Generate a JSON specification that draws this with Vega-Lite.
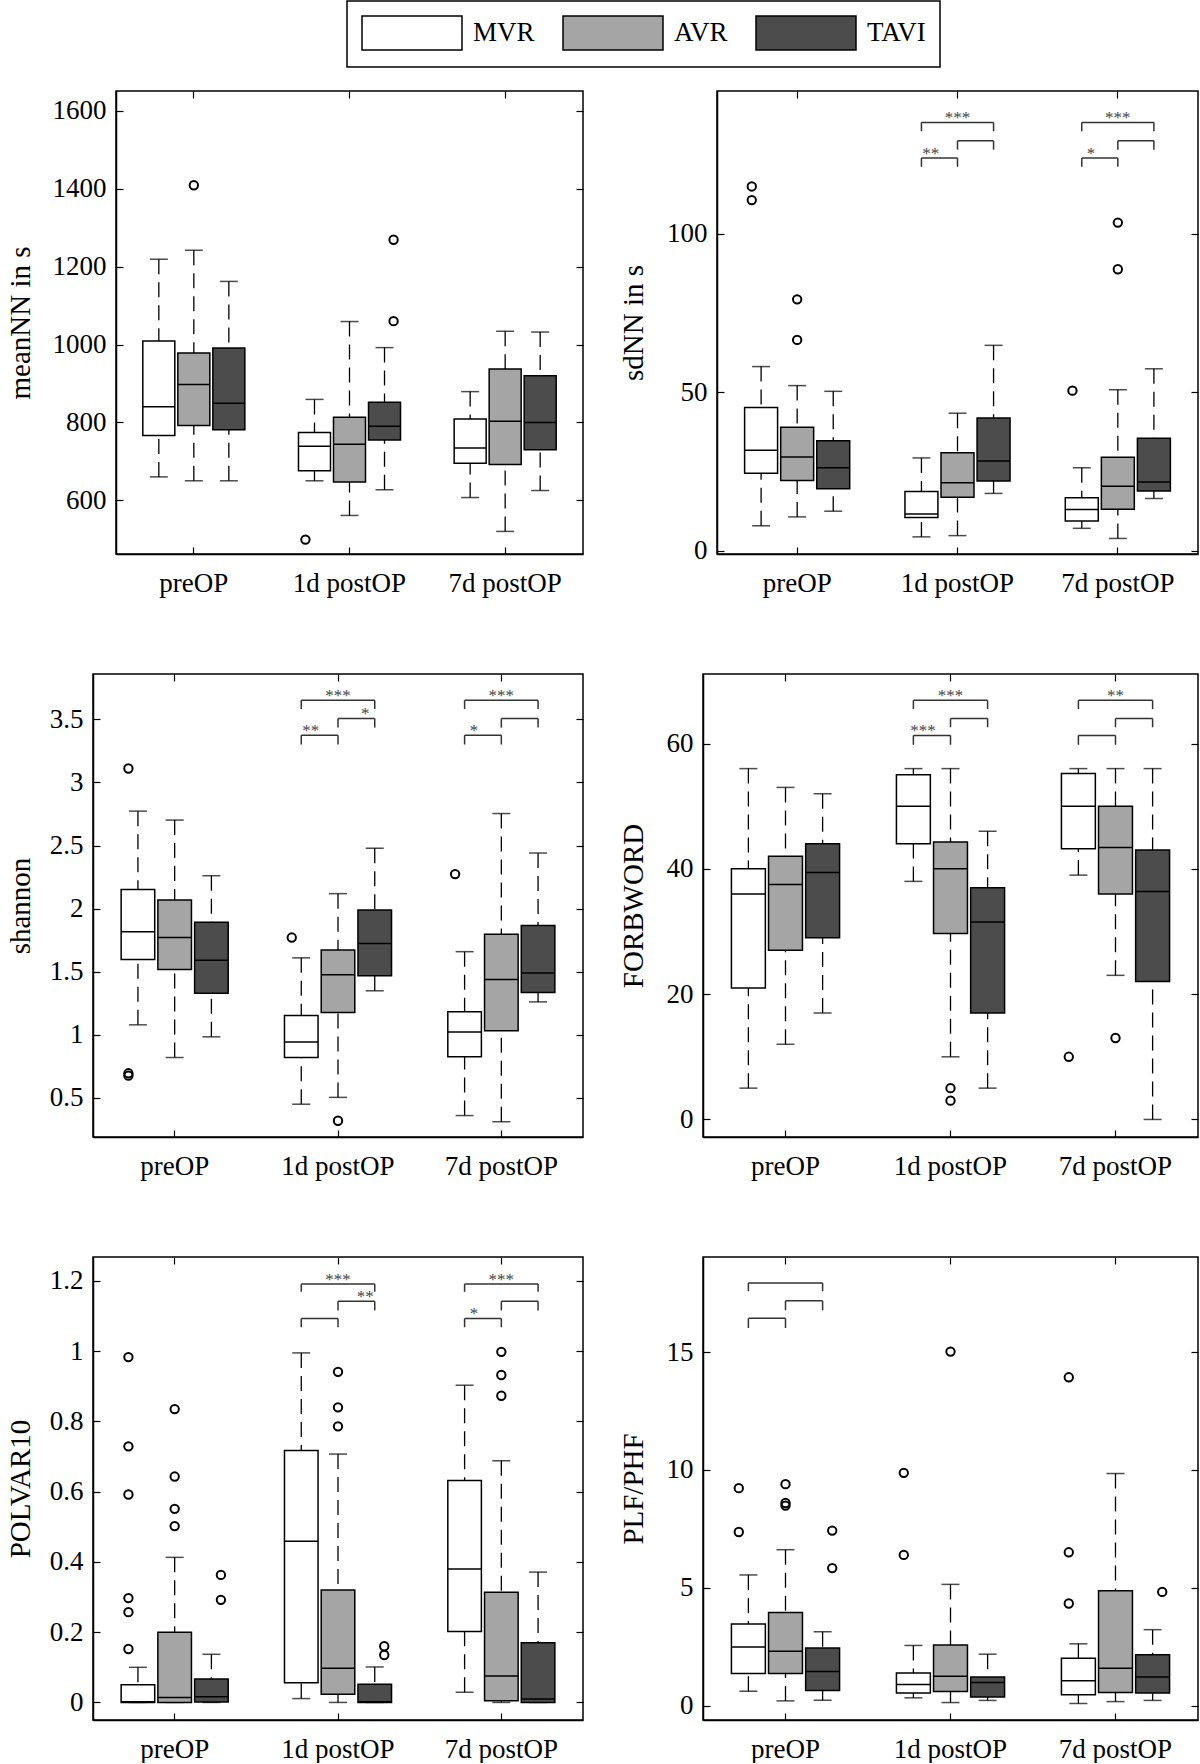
{
"$schema": "https://vega.github.io/schema/vega-lite/v6.json",
"padding": {"left": 4, "top": 0, "right": 0, "bottom": 0},
"datasets": {
"boxes": [
{"p":"meanNN","t":"preOP","g":"MVR","lo":660,"q1":766,"med":840,"q3":1009,"hi":1219},
{"p":"meanNN","t":"preOP","g":"AVR","lo":650,"q1":792,"med":897,"q3":978,"hi":1242},
{"p":"meanNN","t":"preOP","g":"TAVI","lo":650,"q1":781,"med":849,"q3":991,"hi":1162},
{"p":"meanNN","t":"1d postOP","g":"MVR","lo":650,"q1":676,"med":739,"q3":774,"hi":859},
{"p":"meanNN","t":"1d postOP","g":"AVR","lo":561,"q1":647,"med":744,"q3":813,"hi":1059},
{"p":"meanNN","t":"1d postOP","g":"TAVI","lo":627,"q1":755,"med":790,"q3":852,"hi":992},
{"p":"meanNN","t":"7d postOP","g":"MVR","lo":607,"q1":695,"med":734,"q3":809,"hi":879},
{"p":"meanNN","t":"7d postOP","g":"AVR","lo":520,"q1":692,"med":803,"q3":937,"hi":1034},
{"p":"meanNN","t":"7d postOP","g":"TAVI","lo":625,"q1":730,"med":800,"q3":920,"hi":1032},
{"p":"sdNN","t":"preOP","g":"MVR","lo":7.9,"q1":24.5,"med":31.7,"q3":45.2,"hi":58.1},
{"p":"sdNN","t":"preOP","g":"AVR","lo":10.7,"q1":22.2,"med":29.6,"q3":39.0,"hi":52.1},
{"p":"sdNN","t":"preOP","g":"TAVI","lo":12.5,"q1":19.6,"med":26.2,"q3":34.7,"hi":50.3},
{"p":"sdNN","t":"1d postOP","g":"MVR","lo":4.4,"q1":10.5,"med":11.6,"q3":18.7,"hi":29.3},
{"p":"sdNN","t":"1d postOP","g":"AVR","lo":4.8,"q1":16.9,"med":21.5,"q3":30.9,"hi":43.4},
{"p":"sdNN","t":"1d postOP","g":"TAVI","lo":18.1,"q1":22.0,"med":28.3,"q3":41.9,"hi":64.8},
{"p":"sdNN","t":"7d postOP","g":"MVR","lo":7.1,"q1":9.4,"med":13.0,"q3":16.7,"hi":26.2},
{"p":"sdNN","t":"7d postOP","g":"AVR","lo":3.9,"q1":13.1,"med":20.4,"q3":29.5,"hi":50.8},
{"p":"sdNN","t":"7d postOP","g":"TAVI","lo":16.5,"q1":18.9,"med":21.7,"q3":35.5,"hi":57.4},
{"p":"shannon","t":"preOP","g":"MVR","lo":1.079,"q1":1.596,"med":1.817,"q3":2.152,"hi":2.773},
{"p":"shannon","t":"preOP","g":"AVR","lo":0.82,"q1":1.517,"med":1.771,"q3":2.068,"hi":2.702},
{"p":"shannon","t":"preOP","g":"TAVI","lo":0.984,"q1":1.33,"med":1.591,"q3":1.893,"hi":2.261},
{"p":"shannon","t":"1d postOP","g":"MVR","lo":0.45,"q1":0.82,"med":0.943,"q3":1.153,"hi":1.61},
{"p":"shannon","t":"1d postOP","g":"AVR","lo":0.504,"q1":1.177,"med":1.477,"q3":1.673,"hi":2.119},
{"p":"shannon","t":"1d postOP","g":"TAVI","lo":1.349,"q1":1.468,"med":1.724,"q3":1.989,"hi":2.479},
{"p":"shannon","t":"7d postOP","g":"MVR","lo":0.36,"q1":0.826,"med":1.022,"q3":1.182,"hi":1.659},
{"p":"shannon","t":"7d postOP","g":"AVR","lo":0.311,"q1":1.033,"med":1.438,"q3":1.798,"hi":2.754},
{"p":"shannon","t":"7d postOP","g":"TAVI","lo":1.261,"q1":1.335,"med":1.49,"q3":1.866,"hi":2.441},
{"p":"FORBWORD","t":"preOP","g":"MVR","lo":5,"q1":21,"med":36,"q3":40,"hi":56},
{"p":"FORBWORD","t":"preOP","g":"AVR","lo":12,"q1":27,"med":37.5,"q3":42,"hi":53},
{"p":"FORBWORD","t":"preOP","g":"TAVI","lo":17,"q1":29,"med":39.4,"q3":44,"hi":52},
{"p":"FORBWORD","t":"1d postOP","g":"MVR","lo":38,"q1":44,"med":50,"q3":55,"hi":56},
{"p":"FORBWORD","t":"1d postOP","g":"AVR","lo":10,"q1":29.7,"med":40,"q3":44.3,"hi":56},
{"p":"FORBWORD","t":"1d postOP","g":"TAVI","lo":5,"q1":17,"med":31.5,"q3":37,"hi":46},
{"p":"FORBWORD","t":"7d postOP","g":"MVR","lo":39,"q1":43.2,"med":50,"q3":55.2,"hi":56},
{"p":"FORBWORD","t":"7d postOP","g":"AVR","lo":23,"q1":36,"med":43.4,"q3":50,"hi":56},
{"p":"FORBWORD","t":"7d postOP","g":"TAVI","lo":0,"q1":22,"med":36.4,"q3":43,"hi":56},
{"p":"POLVAR10","t":"preOP","g":"MVR","lo":0,"q1":0,"med":0.002,"q3":0.05,"hi":0.1},
{"p":"POLVAR10","t":"preOP","g":"AVR","lo":0,"q1":0,"med":0.014,"q3":0.2,"hi":0.413},
{"p":"POLVAR10","t":"preOP","g":"TAVI","lo":0,"q1":0.001,"med":0.016,"q3":0.067,"hi":0.137},
{"p":"POLVAR10","t":"1d postOP","g":"MVR","lo":0.011,"q1":0.056,"med":0.459,"q3":0.717,"hi":0.995},
{"p":"POLVAR10","t":"1d postOP","g":"AVR","lo":0,"q1":0.023,"med":0.097,"q3":0.32,"hi":0.707},
{"p":"POLVAR10","t":"1d postOP","g":"TAVI","lo":0,"q1":0,"med":0.002,"q3":0.052,"hi":0.101},
{"p":"POLVAR10","t":"7d postOP","g":"MVR","lo":0.029,"q1":0.202,"med":0.38,"q3":0.632,"hi":0.903},
{"p":"POLVAR10","t":"7d postOP","g":"AVR","lo":0,"q1":0.005,"med":0.075,"q3":0.314,"hi":0.688},
{"p":"POLVAR10","t":"7d postOP","g":"TAVI","lo":0,"q1":0,"med":0.01,"q3":0.17,"hi":0.371},
{"p":"PLF","t":"preOP","g":"MVR","lo":0.62,"q1":1.37,"med":2.5,"q3":3.47,"hi":5.55},
{"p":"PLF","t":"preOP","g":"AVR","lo":0.21,"q1":1.37,"med":2.31,"q3":3.96,"hi":6.62},
{"p":"PLF","t":"preOP","g":"TAVI","lo":0.24,"q1":0.65,"med":1.46,"q3":2.45,"hi":3.14},
{"p":"PLF","t":"1d postOP","g":"MVR","lo":0.34,"q1":0.55,"med":0.91,"q3":1.39,"hi":2.56},
{"p":"PLF","t":"1d postOP","g":"AVR","lo":0.14,"q1":0.61,"med":1.25,"q3":2.58,"hi":5.15},
{"p":"PLF","t":"1d postOP","g":"TAVI","lo":0.23,"q1":0.38,"med":0.99,"q3":1.22,"hi":2.19},
{"p":"PLF","t":"7d postOP","g":"MVR","lo":0.1,"q1":0.47,"med":1.06,"q3":2.02,"hi":2.63},
{"p":"PLF","t":"7d postOP","g":"AVR","lo":0.18,"q1":0.57,"med":1.59,"q3":4.88,"hi":9.85},
{"p":"PLF","t":"7d postOP","g":"TAVI","lo":0.23,"q1":0.54,"med":1.22,"q3":2.17,"hi":3.23}
],
"outliers": [
{"p":"meanNN","t":"preOP","g":"AVR","v":1409},
{"p":"meanNN","t":"1d postOP","g":"MVR","v":499},
{"p":"meanNN","t":"1d postOP","g":"TAVI","v":1269},
{"p":"meanNN","t":"1d postOP","g":"TAVI","v":1060},
{"p":"sdNN","t":"preOP","g":"MVR","v":114.9},
{"p":"sdNN","t":"preOP","g":"MVR","v":110.6},
{"p":"sdNN","t":"preOP","g":"AVR","v":79.3},
{"p":"sdNN","t":"preOP","g":"AVR","v":66.5},
{"p":"sdNN","t":"7d postOP","g":"MVR","v":50.5},
{"p":"sdNN","t":"7d postOP","g":"AVR","v":103.5},
{"p":"sdNN","t":"7d postOP","g":"AVR","v":88.8},
{"p":"shannon","t":"preOP","g":"MVR","v":3.111},
{"p":"shannon","t":"preOP","g":"MVR","v":0.695},
{"p":"shannon","t":"preOP","g":"MVR","v":0.676},
{"p":"shannon","t":"1d postOP","g":"MVR","v":1.771},
{"p":"shannon","t":"1d postOP","g":"AVR","v":0.319},
{"p":"shannon","t":"7d postOP","g":"MVR","v":2.274},
{"p":"FORBWORD","t":"1d postOP","g":"AVR","v":5},
{"p":"FORBWORD","t":"1d postOP","g":"AVR","v":3},
{"p":"FORBWORD","t":"7d postOP","g":"MVR","v":10},
{"p":"FORBWORD","t":"7d postOP","g":"AVR","v":13},
{"p":"POLVAR10","t":"preOP","g":"MVR","v":0.983},
{"p":"POLVAR10","t":"preOP","g":"MVR","v":0.729},
{"p":"POLVAR10","t":"preOP","g":"MVR","v":0.592},
{"p":"POLVAR10","t":"preOP","g":"MVR","v":0.297},
{"p":"POLVAR10","t":"preOP","g":"MVR","v":0.257},
{"p":"POLVAR10","t":"preOP","g":"MVR","v":0.152},
{"p":"POLVAR10","t":"preOP","g":"AVR","v":0.835},
{"p":"POLVAR10","t":"preOP","g":"AVR","v":0.643},
{"p":"POLVAR10","t":"preOP","g":"AVR","v":0.551},
{"p":"POLVAR10","t":"preOP","g":"AVR","v":0.502},
{"p":"POLVAR10","t":"preOP","g":"TAVI","v":0.363},
{"p":"POLVAR10","t":"preOP","g":"TAVI","v":0.292},
{"p":"POLVAR10","t":"1d postOP","g":"AVR","v":0.941},
{"p":"POLVAR10","t":"1d postOP","g":"AVR","v":0.84},
{"p":"POLVAR10","t":"1d postOP","g":"AVR","v":0.786},
{"p":"POLVAR10","t":"1d postOP","g":"TAVI","v":0.16},
{"p":"POLVAR10","t":"1d postOP","g":"TAVI","v":0.135},
{"p":"POLVAR10","t":"7d postOP","g":"AVR","v":0.998},
{"p":"POLVAR10","t":"7d postOP","g":"AVR","v":0.932},
{"p":"POLVAR10","t":"7d postOP","g":"AVR","v":0.873},
{"p":"PLF","t":"preOP","g":"MVR","v":9.23},
{"p":"PLF","t":"preOP","g":"MVR","v":7.37},
{"p":"PLF","t":"preOP","g":"AVR","v":9.4},
{"p":"PLF","t":"preOP","g":"AVR","v":8.6},
{"p":"PLF","t":"preOP","g":"AVR","v":8.49},
{"p":"PLF","t":"preOP","g":"TAVI","v":7.43},
{"p":"PLF","t":"preOP","g":"TAVI","v":5.84},
{"p":"PLF","t":"1d postOP","g":"MVR","v":9.88},
{"p":"PLF","t":"1d postOP","g":"MVR","v":6.4},
{"p":"PLF","t":"1d postOP","g":"AVR","v":15.02},
{"p":"PLF","t":"7d postOP","g":"MVR","v":13.93},
{"p":"PLF","t":"7d postOP","g":"MVR","v":6.51},
{"p":"PLF","t":"7d postOP","g":"MVR","v":4.34},
{"p":"PLF","t":"7d postOP","g":"TAVI","v":4.83}
],
"brackets": [
{"p":"sdNN","t":"1d postOP","a":"MVR","b":"AVR","mid":"MVR-AVR","bot":121.1,"top":123.9,"s":"**"},
{"p":"sdNN","t":"1d postOP","a":"AVR","b":"TAVI","mid":"AVR-TAVI","bot":126.5,"top":129.3,"s":""},
{"p":"sdNN","t":"1d postOP","a":"MVR","b":"TAVI","mid":"AVR","bot":132.3,"top":135.1,"s":"***"},
{"p":"sdNN","t":"7d postOP","a":"MVR","b":"AVR","mid":"MVR-AVR","bot":121.1,"top":123.9,"s":"*"},
{"p":"sdNN","t":"7d postOP","a":"AVR","b":"TAVI","mid":"AVR-TAVI","bot":126.5,"top":129.3,"s":""},
{"p":"sdNN","t":"7d postOP","a":"MVR","b":"TAVI","mid":"AVR","bot":132.3,"top":135.1,"s":"***"},
{"p":"shannon","t":"1d postOP","a":"MVR","b":"AVR","mid":"MVR-AVR","bot":3.301,"top":3.375,"s":"**"},
{"p":"shannon","t":"1d postOP","a":"AVR","b":"TAVI","mid":"AVR-TAVI","bot":3.435,"top":3.508,"s":"*"},
{"p":"shannon","t":"1d postOP","a":"MVR","b":"TAVI","mid":"AVR","bot":3.582,"top":3.652,"s":"***"},
{"p":"shannon","t":"7d postOP","a":"MVR","b":"AVR","mid":"MVR-AVR","bot":3.301,"top":3.375,"s":"*"},
{"p":"shannon","t":"7d postOP","a":"AVR","b":"TAVI","mid":"AVR-TAVI","bot":3.435,"top":3.508,"s":""},
{"p":"shannon","t":"7d postOP","a":"MVR","b":"TAVI","mid":"AVR","bot":3.582,"top":3.652,"s":"***"},
{"p":"FORBWORD","t":"1d postOP","a":"MVR","b":"AVR","mid":"MVR-AVR","bot":59.8,"top":61.3,"s":"***"},
{"p":"FORBWORD","t":"1d postOP","a":"AVR","b":"TAVI","mid":"AVR-TAVI","bot":62.6,"top":64.0,"s":""},
{"p":"FORBWORD","t":"1d postOP","a":"MVR","b":"TAVI","mid":"AVR","bot":65.5,"top":66.9,"s":"***"},
{"p":"FORBWORD","t":"7d postOP","a":"MVR","b":"AVR","mid":"MVR-AVR","bot":59.8,"top":61.3,"s":""},
{"p":"FORBWORD","t":"7d postOP","a":"AVR","b":"TAVI","mid":"AVR-TAVI","bot":62.6,"top":64.0,"s":""},
{"p":"FORBWORD","t":"7d postOP","a":"MVR","b":"TAVI","mid":"AVR","bot":65.5,"top":66.9,"s":"**"},
{"p":"POLVAR10","t":"1d postOP","a":"MVR","b":"AVR","mid":"MVR-AVR","bot":1.068,"top":1.093,"s":""},
{"p":"POLVAR10","t":"1d postOP","a":"AVR","b":"TAVI","mid":"AVR-TAVI","bot":1.116,"top":1.142,"s":"**"},
{"p":"POLVAR10","t":"1d postOP","a":"MVR","b":"TAVI","mid":"AVR","bot":1.169,"top":1.191,"s":"***"},
{"p":"POLVAR10","t":"7d postOP","a":"MVR","b":"AVR","mid":"MVR-AVR","bot":1.068,"top":1.093,"s":"*"},
{"p":"POLVAR10","t":"7d postOP","a":"AVR","b":"TAVI","mid":"AVR-TAVI","bot":1.116,"top":1.142,"s":""},
{"p":"POLVAR10","t":"7d postOP","a":"MVR","b":"TAVI","mid":"AVR","bot":1.169,"top":1.191,"s":"***"},
{"p":"PLF","t":"preOP","a":"MVR","b":"AVR","mid":"MVR-AVR","bot":16.02,"top":16.43,"s":""},
{"p":"PLF","t":"preOP","a":"AVR","b":"TAVI","mid":"AVR-TAVI","bot":16.77,"top":17.17,"s":""},
{"p":"PLF","t":"preOP","a":"MVR","b":"TAVI","mid":"AVR","bot":17.58,"top":17.93,"s":""}
]
},
"concat": [
{"hconcat": [
{"width": 1, "height": 10, "data": {"values": []}, "mark": {"type": "rule", "opacity": 0}, "encoding": {}, "view": {"stroke": null}},
{"hconcat": [
{"width": 467, "height": 463,
 "layer": [
  {"data": {"name": "boxes"}, "transform": [{"filter": "datum.p == 'meanNN'"}],
   "encoding": {
    "x": {"field": "t", "type": "nominal", "scale": {"domain": ["preOP","1d postOP","7d postOP"], "paddingInner": 0, "paddingOuter": 0}, "axis": {"orient": "bottom", "title": null}},
    "xOffset": {"field": "g", "type": "nominal", "scale": {"domain": ["MVR","AVR","TAVI"], "paddingInner": 0.086, "paddingOuter": 0.766}}},
   "layer": [
    {"mark": {"type": "rule", "color": "black", "strokeWidth": 1.3, "strokeDash": [15, 8]},
     "encoding": {"y": {"field": "hi", "type": "quantitative", "scale": {"domain": [462, 1651], "nice": false, "zero": false}, "axis": {"orient": "left", "title": "meanNN in s", "values": [600,800,1000,1200,1400,1600], "format": "d", "minExtent": 71, "maxExtent": 71, "titlePadding": 10}}, "y2": {"field": "q3"}}},
    {"mark": {"type": "rule", "color": "black", "strokeWidth": 1.3, "strokeDash": [15, 8]},
     "encoding": {"y": {"field": "lo", "type": "quantitative"}, "y2": {"field": "q1"}}},
    {"mark": {"type": "tick", "color": "black", "size": 18, "thickness": 1.5}, "encoding": {"y": {"field": "hi", "type": "quantitative"}}},
    {"mark": {"type": "tick", "color": "black", "size": 18, "thickness": 1.5}, "encoding": {"y": {"field": "lo", "type": "quantitative"}}},
    {"mark": {"type": "bar", "stroke": "black", "strokeWidth": 1.5, "opacity": 1},
     "encoding": {"y": {"field": "q1", "type": "quantitative"}, "y2": {"field": "q3"}, "fill": {"field": "g", "type": "nominal", "scale": {"domain": ["MVR","AVR","TAVI"], "range": ["#ffffff","#a5a5a5","#4c4c4c"]}, "legend": {"title": null}}}},
    {"mark": {"type": "bar", "fillOpacity": 0, "stroke": "black", "strokeWidth": 1.5},
     "encoding": {"y": {"field": "med", "type": "quantitative"}, "y2": {"field": "med"}}}
   ]},
  {"data": {"name": "outliers"}, "transform": [{"filter": "datum.p == 'meanNN'"}],
   "mark": {"type": "point", "shape": "circle", "filled": false, "color": "black", "strokeWidth": 2, "size": 70, "opacity": 1},
   "encoding": {
    "x": {"field": "t", "type": "nominal", "axis": {"orient": "top", "labels": false, "domain": false, "title": null, "minExtent": 0, "maxExtent": 0}},
    "xOffset": {"field": "g", "type": "nominal", "scale": {"domain": ["MVR","AVR","TAVI"], "paddingInner": 0.086, "paddingOuter": 0.766}},
    "y": {"field": "v", "type": "quantitative", "axis": {"orient": "right", "labels": false, "domain": false, "title": null, "values": [600,800,1000,1200,1400,1600], "minExtent": 0, "maxExtent": 0}}}}
 ],
 "resolve": {"scale": {"xOffset": "independent"}, "axis": {"x": "independent", "y": "independent"}}
},
{"width": 481, "height": 463,
 "layer": [
  {"data": {"name": "boxes"}, "transform": [{"filter": "datum.p == 'sdNN'"}],
   "encoding": {
    "x": {"field": "t", "type": "nominal", "scale": {"domain": ["preOP","1d postOP","7d postOP"], "paddingInner": 0, "paddingOuter": 0}, "axis": {"orient": "bottom", "title": null}},
    "xOffset": {"field": "g", "type": "nominal", "scale": {"domain": ["MVR","AVR","TAVI"], "paddingInner": 0.086, "paddingOuter": 0.766}}},
   "layer": [
    {"mark": {"type": "rule", "color": "black", "strokeWidth": 1.3, "strokeDash": [15, 8]},
     "encoding": {"y": {"field": "hi", "type": "quantitative", "scale": {"domain": [-1, 145], "nice": false, "zero": false}, "axis": {"orient": "left", "title": "sdNN in s", "values": [0,50,100], "minExtent": 59, "maxExtent": 59, "titlePadding": 10}}, "y2": {"field": "q3"}}},
    {"mark": {"type": "rule", "color": "black", "strokeWidth": 1.3, "strokeDash": [15, 8]},
     "encoding": {"y": {"field": "lo", "type": "quantitative"}, "y2": {"field": "q1"}}},
    {"mark": {"type": "tick", "color": "black", "size": 18, "thickness": 1.5}, "encoding": {"y": {"field": "hi", "type": "quantitative"}}},
    {"mark": {"type": "tick", "color": "black", "size": 18, "thickness": 1.5}, "encoding": {"y": {"field": "lo", "type": "quantitative"}}},
    {"mark": {"type": "bar", "stroke": "black", "strokeWidth": 1.5, "opacity": 1},
     "encoding": {"y": {"field": "q1", "type": "quantitative"}, "y2": {"field": "q3"}, "fill": {"field": "g", "type": "nominal", "scale": {"domain": ["MVR","AVR","TAVI"], "range": ["#ffffff","#a5a5a5","#4c4c4c"]}, "legend": {"title": null}}}},
    {"mark": {"type": "bar", "fillOpacity": 0, "stroke": "black", "strokeWidth": 1.5},
     "encoding": {"y": {"field": "med", "type": "quantitative"}, "y2": {"field": "med"}}}
   ]},
  {"data": {"name": "outliers"}, "transform": [{"filter": "datum.p == 'sdNN'"}],
   "mark": {"type": "point", "shape": "circle", "filled": false, "color": "black", "strokeWidth": 2, "size": 70, "opacity": 1},
   "encoding": {
    "x": {"field": "t", "type": "nominal", "axis": {"orient": "top", "labels": false, "domain": false, "title": null, "minExtent": 0, "maxExtent": 0}},
    "xOffset": {"field": "g", "type": "nominal", "scale": {"domain": ["MVR","AVR","TAVI"], "paddingInner": 0.086, "paddingOuter": 0.766}},
    "y": {"field": "v", "type": "quantitative", "axis": {"orient": "right", "labels": false, "domain": false, "title": null, "values": [0,50,100], "minExtent": 0, "maxExtent": 0}}}},
  {"data": {"name": "brackets"}, "transform": [{"filter": "datum.p == 'sdNN'"}, {"fold": ["a", "b"], "as": ["k", "gv"]}],
   "encoding": {
    "x": {"field": "t", "type": "nominal", "axis": null},
    "xOffset": {"field": "gv", "type": "nominal", "scale": {"domain": ["MVR","AVR","TAVI"], "paddingInner": 0.086, "paddingOuter": 0.766}}},
   "layer": [
    {"mark": {"type": "line", "color": "#333333", "strokeWidth": 1.5}, "encoding": {"y": {"field": "top", "type": "quantitative", "axis": null}, "detail": [{"field": "t"}, {"field": "mid"}]}},
    {"mark": {"type": "rule", "color": "#333333", "strokeWidth": 1.5}, "encoding": {"y": {"field": "bot", "type": "quantitative", "axis": null}, "y2": {"field": "top"}}}
   ]},
  {"data": {"name": "brackets"}, "transform": [{"filter": "datum.p == 'sdNN'"}],
   "mark": {"type": "text", "font": "Liberation Serif", "fontSize": 17, "color": "#444444", "baseline": "alphabetic", "dy": 1},
   "encoding": {
    "x": {"field": "t", "type": "nominal", "axis": null},
    "xOffset": {"field": "mid", "type": "nominal", "scale": {"type": "point", "domain": ["MVR","MVR-AVR","AVR","AVR-TAVI","TAVI"], "padding": 2.446}},
    "y": {"field": "top", "type": "quantitative", "axis": null},
    "text": {"field": "s"}}}
 ],
 "resolve": {"scale": {"xOffset": "independent"}, "axis": {"x": "independent", "y": "independent"}}
}
], "spacing": 33}
], "spacing": 0},
{"hconcat": [
{"width": 1, "height": 10, "data": {"values": []}, "mark": {"type": "rule", "opacity": 0}, "encoding": {}, "view": {"stroke": null}},
{"hconcat": [
{"width": 490, "height": 463,
 "layer": [
  {"data": {"name": "boxes"}, "transform": [{"filter": "datum.p == 'shannon'"}],
   "encoding": {
    "x": {"field": "t", "type": "nominal", "scale": {"domain": ["preOP","1d postOP","7d postOP"], "paddingInner": 0, "paddingOuter": 0}, "axis": {"orient": "bottom", "title": null}},
    "xOffset": {"field": "g", "type": "nominal", "scale": {"domain": ["MVR","AVR","TAVI"], "paddingInner": 0.086, "paddingOuter": 0.766}}},
   "layer": [
    {"mark": {"type": "rule", "color": "black", "strokeWidth": 1.3, "strokeDash": [15, 8]},
     "encoding": {"y": {"field": "hi", "type": "quantitative", "scale": {"domain": [0.19, 3.86], "nice": false, "zero": false}, "axis": {"orient": "left", "title": "shannon", "values": [0.5,1,1.5,2,2.5,3,3.5], "format": "~g", "minExtent": 48, "maxExtent": 48, "titlePadding": 10}}, "y2": {"field": "q3"}}},
    {"mark": {"type": "rule", "color": "black", "strokeWidth": 1.3, "strokeDash": [15, 8]},
     "encoding": {"y": {"field": "lo", "type": "quantitative"}, "y2": {"field": "q1"}}},
    {"mark": {"type": "tick", "color": "black", "size": 18, "thickness": 1.5}, "encoding": {"y": {"field": "hi", "type": "quantitative"}}},
    {"mark": {"type": "tick", "color": "black", "size": 18, "thickness": 1.5}, "encoding": {"y": {"field": "lo", "type": "quantitative"}}},
    {"mark": {"type": "bar", "stroke": "black", "strokeWidth": 1.5, "opacity": 1},
     "encoding": {"y": {"field": "q1", "type": "quantitative"}, "y2": {"field": "q3"}, "fill": {"field": "g", "type": "nominal", "scale": {"domain": ["MVR","AVR","TAVI"], "range": ["#ffffff","#a5a5a5","#4c4c4c"]}, "legend": {"title": null}}}},
    {"mark": {"type": "bar", "fillOpacity": 0, "stroke": "black", "strokeWidth": 1.5},
     "encoding": {"y": {"field": "med", "type": "quantitative"}, "y2": {"field": "med"}}}
   ]},
  {"data": {"name": "outliers"}, "transform": [{"filter": "datum.p == 'shannon'"}],
   "mark": {"type": "point", "shape": "circle", "filled": false, "color": "black", "strokeWidth": 2, "size": 70, "opacity": 1},
   "encoding": {
    "x": {"field": "t", "type": "nominal", "axis": {"orient": "top", "labels": false, "domain": false, "title": null, "minExtent": 0, "maxExtent": 0}},
    "xOffset": {"field": "g", "type": "nominal", "scale": {"domain": ["MVR","AVR","TAVI"], "paddingInner": 0.086, "paddingOuter": 0.766}},
    "y": {"field": "v", "type": "quantitative", "axis": {"orient": "right", "labels": false, "domain": false, "title": null, "values": [0.5,1,1.5,2,2.5,3,3.5], "minExtent": 0, "maxExtent": 0}}}},
  {"data": {"name": "brackets"}, "transform": [{"filter": "datum.p == 'shannon'"}, {"fold": ["a", "b"], "as": ["k", "gv"]}],
   "encoding": {
    "x": {"field": "t", "type": "nominal", "axis": null},
    "xOffset": {"field": "gv", "type": "nominal", "scale": {"domain": ["MVR","AVR","TAVI"], "paddingInner": 0.086, "paddingOuter": 0.766}}},
   "layer": [
    {"mark": {"type": "line", "color": "#333333", "strokeWidth": 1.5}, "encoding": {"y": {"field": "top", "type": "quantitative", "axis": null}, "detail": [{"field": "t"}, {"field": "mid"}]}},
    {"mark": {"type": "rule", "color": "#333333", "strokeWidth": 1.5}, "encoding": {"y": {"field": "bot", "type": "quantitative", "axis": null}, "y2": {"field": "top"}}}
   ]},
  {"data": {"name": "brackets"}, "transform": [{"filter": "datum.p == 'shannon'"}],
   "mark": {"type": "text", "font": "Liberation Serif", "fontSize": 17, "color": "#444444", "baseline": "alphabetic", "dy": 1},
   "encoding": {
    "x": {"field": "t", "type": "nominal", "axis": null},
    "xOffset": {"field": "mid", "type": "nominal", "scale": {"type": "point", "domain": ["MVR","MVR-AVR","AVR","AVR-TAVI","TAVI"], "padding": 2.446}},
    "y": {"field": "top", "type": "quantitative", "axis": null},
    "text": {"field": "s"}}}
 ],
 "resolve": {"scale": {"xOffset": "independent"}, "axis": {"x": "independent", "y": "independent"}}
},
{"width": 495, "height": 463,
 "layer": [
  {"data": {"name": "boxes"}, "transform": [{"filter": "datum.p == 'FORBWORD'"}],
   "encoding": {
    "x": {"field": "t", "type": "nominal", "scale": {"domain": ["preOP","1d postOP","7d postOP"], "paddingInner": 0, "paddingOuter": 0}, "axis": {"orient": "bottom", "title": null}},
    "xOffset": {"field": "g", "type": "nominal", "scale": {"domain": ["MVR","AVR","TAVI"], "paddingInner": 0.086, "paddingOuter": 0.766}}},
   "layer": [
    {"mark": {"type": "rule", "color": "black", "strokeWidth": 1.3, "strokeDash": [15, 8]},
     "encoding": {"y": {"field": "hi", "type": "quantitative", "scale": {"domain": [-2.8, 71.1], "nice": false, "zero": false}, "axis": {"orient": "left", "title": "FORBWORD", "values": [0,20,40,60], "minExtent": 45, "maxExtent": 45, "titlePadding": 10}}, "y2": {"field": "q3"}}},
    {"mark": {"type": "rule", "color": "black", "strokeWidth": 1.3, "strokeDash": [15, 8]},
     "encoding": {"y": {"field": "lo", "type": "quantitative"}, "y2": {"field": "q1"}}},
    {"mark": {"type": "tick", "color": "black", "size": 18, "thickness": 1.5}, "encoding": {"y": {"field": "hi", "type": "quantitative"}}},
    {"mark": {"type": "tick", "color": "black", "size": 18, "thickness": 1.5}, "encoding": {"y": {"field": "lo", "type": "quantitative"}}},
    {"mark": {"type": "bar", "stroke": "black", "strokeWidth": 1.5, "opacity": 1},
     "encoding": {"y": {"field": "q1", "type": "quantitative"}, "y2": {"field": "q3"}, "fill": {"field": "g", "type": "nominal", "scale": {"domain": ["MVR","AVR","TAVI"], "range": ["#ffffff","#a5a5a5","#4c4c4c"]}, "legend": {"title": null}}}},
    {"mark": {"type": "bar", "fillOpacity": 0, "stroke": "black", "strokeWidth": 1.5},
     "encoding": {"y": {"field": "med", "type": "quantitative"}, "y2": {"field": "med"}}}
   ]},
  {"data": {"name": "outliers"}, "transform": [{"filter": "datum.p == 'FORBWORD'"}],
   "mark": {"type": "point", "shape": "circle", "filled": false, "color": "black", "strokeWidth": 2, "size": 70, "opacity": 1},
   "encoding": {
    "x": {"field": "t", "type": "nominal", "axis": {"orient": "top", "labels": false, "domain": false, "title": null, "minExtent": 0, "maxExtent": 0}},
    "xOffset": {"field": "g", "type": "nominal", "scale": {"domain": ["MVR","AVR","TAVI"], "paddingInner": 0.086, "paddingOuter": 0.766}},
    "y": {"field": "v", "type": "quantitative", "axis": {"orient": "right", "labels": false, "domain": false, "title": null, "values": [0,20,40,60], "minExtent": 0, "maxExtent": 0}}}},
  {"data": {"name": "brackets"}, "transform": [{"filter": "datum.p == 'FORBWORD'"}, {"fold": ["a", "b"], "as": ["k", "gv"]}],
   "encoding": {
    "x": {"field": "t", "type": "nominal", "axis": null},
    "xOffset": {"field": "gv", "type": "nominal", "scale": {"domain": ["MVR","AVR","TAVI"], "paddingInner": 0.086, "paddingOuter": 0.766}}},
   "layer": [
    {"mark": {"type": "line", "color": "#333333", "strokeWidth": 1.5}, "encoding": {"y": {"field": "top", "type": "quantitative", "axis": null}, "detail": [{"field": "t"}, {"field": "mid"}]}},
    {"mark": {"type": "rule", "color": "#333333", "strokeWidth": 1.5}, "encoding": {"y": {"field": "bot", "type": "quantitative", "axis": null}, "y2": {"field": "top"}}}
   ]},
  {"data": {"name": "brackets"}, "transform": [{"filter": "datum.p == 'FORBWORD'"}],
   "mark": {"type": "text", "font": "Liberation Serif", "fontSize": 17, "color": "#444444", "baseline": "alphabetic", "dy": 1},
   "encoding": {
    "x": {"field": "t", "type": "nominal", "axis": null},
    "xOffset": {"field": "mid", "type": "nominal", "scale": {"type": "point", "domain": ["MVR","MVR-AVR","AVR","AVR-TAVI","TAVI"], "padding": 2.446}},
    "y": {"field": "top", "type": "quantitative", "axis": null},
    "text": {"field": "s"}}}
 ],
 "resolve": {"scale": {"xOffset": "independent"}, "axis": {"x": "independent", "y": "independent"}}
}
], "spacing": 33}
], "spacing": 0},
{"hconcat": [
{"width": 1, "height": 10, "data": {"values": []}, "mark": {"type": "rule", "opacity": 0}, "encoding": {}, "view": {"stroke": null}},
{"hconcat": [
{"width": 490, "height": 463,
 "layer": [
  {"data": {"name": "boxes"}, "transform": [{"filter": "datum.p == 'POLVAR10'"}],
   "encoding": {
    "x": {"field": "t", "type": "nominal", "scale": {"domain": ["preOP","1d postOP","7d postOP"], "paddingInner": 0, "paddingOuter": 0}, "axis": {"orient": "bottom", "title": null}},
    "xOffset": {"field": "g", "type": "nominal", "scale": {"domain": ["MVR","AVR","TAVI"], "paddingInner": 0.086, "paddingOuter": 0.766}}},
   "layer": [
    {"mark": {"type": "rule", "color": "black", "strokeWidth": 1.3, "strokeDash": [15, 8]},
     "encoding": {"y": {"field": "hi", "type": "quantitative", "scale": {"domain": [-0.05, 1.268], "nice": false, "zero": false}, "axis": {"orient": "left", "title": "POLVAR10", "values": [0,0.2,0.4,0.6,0.8,1,1.2], "format": "~g", "minExtent": 48, "maxExtent": 48, "titlePadding": 10}}, "y2": {"field": "q3"}}},
    {"mark": {"type": "rule", "color": "black", "strokeWidth": 1.3, "strokeDash": [15, 8]},
     "encoding": {"y": {"field": "lo", "type": "quantitative"}, "y2": {"field": "q1"}}},
    {"mark": {"type": "tick", "color": "black", "size": 18, "thickness": 1.5}, "encoding": {"y": {"field": "hi", "type": "quantitative"}}},
    {"mark": {"type": "tick", "color": "black", "size": 18, "thickness": 1.5}, "encoding": {"y": {"field": "lo", "type": "quantitative"}}},
    {"mark": {"type": "bar", "stroke": "black", "strokeWidth": 1.5, "opacity": 1},
     "encoding": {"y": {"field": "q1", "type": "quantitative"}, "y2": {"field": "q3"}, "fill": {"field": "g", "type": "nominal", "scale": {"domain": ["MVR","AVR","TAVI"], "range": ["#ffffff","#a5a5a5","#4c4c4c"]}, "legend": {"title": null}}}},
    {"mark": {"type": "bar", "fillOpacity": 0, "stroke": "black", "strokeWidth": 1.5},
     "encoding": {"y": {"field": "med", "type": "quantitative"}, "y2": {"field": "med"}}}
   ]},
  {"data": {"name": "outliers"}, "transform": [{"filter": "datum.p == 'POLVAR10'"}],
   "mark": {"type": "point", "shape": "circle", "filled": false, "color": "black", "strokeWidth": 2, "size": 70, "opacity": 1},
   "encoding": {
    "x": {"field": "t", "type": "nominal", "axis": {"orient": "top", "labels": false, "domain": false, "title": null, "minExtent": 0, "maxExtent": 0}},
    "xOffset": {"field": "g", "type": "nominal", "scale": {"domain": ["MVR","AVR","TAVI"], "paddingInner": 0.086, "paddingOuter": 0.766}},
    "y": {"field": "v", "type": "quantitative", "axis": {"orient": "right", "labels": false, "domain": false, "title": null, "values": [0,0.2,0.4,0.6,0.8,1,1.2], "minExtent": 0, "maxExtent": 0}}}},
  {"data": {"name": "brackets"}, "transform": [{"filter": "datum.p == 'POLVAR10'"}, {"fold": ["a", "b"], "as": ["k", "gv"]}],
   "encoding": {
    "x": {"field": "t", "type": "nominal", "axis": null},
    "xOffset": {"field": "gv", "type": "nominal", "scale": {"domain": ["MVR","AVR","TAVI"], "paddingInner": 0.086, "paddingOuter": 0.766}}},
   "layer": [
    {"mark": {"type": "line", "color": "#333333", "strokeWidth": 1.5}, "encoding": {"y": {"field": "top", "type": "quantitative", "axis": null}, "detail": [{"field": "t"}, {"field": "mid"}]}},
    {"mark": {"type": "rule", "color": "#333333", "strokeWidth": 1.5}, "encoding": {"y": {"field": "bot", "type": "quantitative", "axis": null}, "y2": {"field": "top"}}}
   ]},
  {"data": {"name": "brackets"}, "transform": [{"filter": "datum.p == 'POLVAR10'"}],
   "mark": {"type": "text", "font": "Liberation Serif", "fontSize": 17, "color": "#444444", "baseline": "alphabetic", "dy": 1},
   "encoding": {
    "x": {"field": "t", "type": "nominal", "axis": null},
    "xOffset": {"field": "mid", "type": "nominal", "scale": {"type": "point", "domain": ["MVR","MVR-AVR","AVR","AVR-TAVI","TAVI"], "padding": 2.446}},
    "y": {"field": "top", "type": "quantitative", "axis": null},
    "text": {"field": "s"}}}
 ],
 "resolve": {"scale": {"xOffset": "independent"}, "axis": {"x": "independent", "y": "independent"}}
},
{"width": 495, "height": 463,
 "layer": [
  {"data": {"name": "boxes"}, "transform": [{"filter": "datum.p == 'PLF'"}],
   "encoding": {
    "x": {"field": "t", "type": "nominal", "scale": {"domain": ["preOP","1d postOP","7d postOP"], "paddingInner": 0, "paddingOuter": 0}, "axis": {"orient": "bottom", "title": null}},
    "xOffset": {"field": "g", "type": "nominal", "scale": {"domain": ["MVR","AVR","TAVI"], "paddingInner": 0.086, "paddingOuter": 0.766}}},
   "layer": [
    {"mark": {"type": "rule", "color": "black", "strokeWidth": 1.3, "strokeDash": [15, 8]},
     "encoding": {"y": {"field": "hi", "type": "quantitative", "scale": {"domain": [-0.6, 19.03], "nice": false, "zero": false}, "axis": {"orient": "left", "title": "PLF/PHF", "values": [0,5,10,15], "minExtent": 45, "maxExtent": 45, "titlePadding": 10}}, "y2": {"field": "q3"}}},
    {"mark": {"type": "rule", "color": "black", "strokeWidth": 1.3, "strokeDash": [15, 8]},
     "encoding": {"y": {"field": "lo", "type": "quantitative"}, "y2": {"field": "q1"}}},
    {"mark": {"type": "tick", "color": "black", "size": 18, "thickness": 1.5}, "encoding": {"y": {"field": "hi", "type": "quantitative"}}},
    {"mark": {"type": "tick", "color": "black", "size": 18, "thickness": 1.5}, "encoding": {"y": {"field": "lo", "type": "quantitative"}}},
    {"mark": {"type": "bar", "stroke": "black", "strokeWidth": 1.5, "opacity": 1},
     "encoding": {"y": {"field": "q1", "type": "quantitative"}, "y2": {"field": "q3"}, "fill": {"field": "g", "type": "nominal", "scale": {"domain": ["MVR","AVR","TAVI"], "range": ["#ffffff","#a5a5a5","#4c4c4c"]}, "legend": {"title": null}}}},
    {"mark": {"type": "bar", "fillOpacity": 0, "stroke": "black", "strokeWidth": 1.5},
     "encoding": {"y": {"field": "med", "type": "quantitative"}, "y2": {"field": "med"}}}
   ]},
  {"data": {"name": "outliers"}, "transform": [{"filter": "datum.p == 'PLF'"}],
   "mark": {"type": "point", "shape": "circle", "filled": false, "color": "black", "strokeWidth": 2, "size": 70, "opacity": 1},
   "encoding": {
    "x": {"field": "t", "type": "nominal", "axis": {"orient": "top", "labels": false, "domain": false, "title": null, "minExtent": 0, "maxExtent": 0}},
    "xOffset": {"field": "g", "type": "nominal", "scale": {"domain": ["MVR","AVR","TAVI"], "paddingInner": 0.086, "paddingOuter": 0.766}},
    "y": {"field": "v", "type": "quantitative", "axis": {"orient": "right", "labels": false, "domain": false, "title": null, "values": [0,5,10,15], "minExtent": 0, "maxExtent": 0}}}},
  {"data": {"name": "brackets"}, "transform": [{"filter": "datum.p == 'PLF'"}, {"fold": ["a", "b"], "as": ["k", "gv"]}],
   "encoding": {
    "x": {"field": "t", "type": "nominal", "axis": null},
    "xOffset": {"field": "gv", "type": "nominal", "scale": {"domain": ["MVR","AVR","TAVI"], "paddingInner": 0.086, "paddingOuter": 0.766}}},
   "layer": [
    {"mark": {"type": "line", "color": "#333333", "strokeWidth": 1.5}, "encoding": {"y": {"field": "top", "type": "quantitative", "axis": null}, "detail": [{"field": "t"}, {"field": "mid"}]}},
    {"mark": {"type": "rule", "color": "#333333", "strokeWidth": 1.5}, "encoding": {"y": {"field": "bot", "type": "quantitative", "axis": null}, "y2": {"field": "top"}}}
   ]}
 ],
 "resolve": {"scale": {"xOffset": "independent"}, "axis": {"x": "independent", "y": "independent"}}
}
], "spacing": 33}
], "spacing": 0}
],
"columns": 1,
"align": "none",
"spacing": 75,
"config": {
 "font": "Liberation Serif",
 "view": {"stroke": "black", "strokeWidth": 1.5},
 "axis": {"labelFont": "Liberation Serif", "labelFontSize": 27, "labelColor": "black", "titleFont": "Liberation Serif", "titleFontSize": 29, "titleFontWeight": "normal", "titleColor": "black", "domainColor": "black", "domainWidth": 1.5, "tickColor": "black", "tickWidth": 1.2, "tickSize": -7, "grid": false},
 "axisX": {"labelPadding": 23, "labelAngle": 0},
 "axisY": {"labelPadding": 17},
 "legend": {"orient": "none", "legendX": 343, "legendY": -90, "direction": "horizontal", "symbolType": "M-1,-1H4.882V1H-1Z", "symbolSize": 1156, "symbolStrokeColor": "black", "symbolStrokeWidth": 1.5, "symbolOpacity": 1, "labelFont": "Liberation Serif", "labelFontSize": 27, "labelColor": "black", "labelOffset": 76, "columnPadding": 25, "padding": 14, "strokeColor": "black", "strokeWidth": 1.5}
}
}
